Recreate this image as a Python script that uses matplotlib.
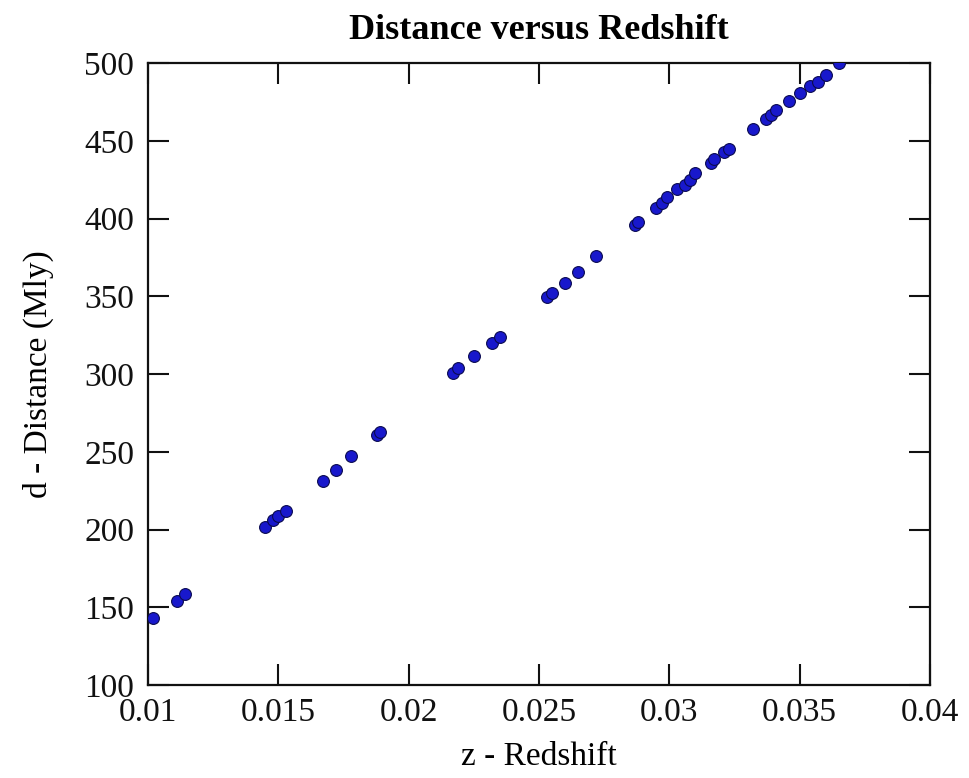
import matplotlib
matplotlib.use("Agg")
import matplotlib.pyplot as plt

# redshift z and distance d (Mly)
redshift = [0.0102, 0.0111, 0.0114, 0.0145, 0.0148, 0.0150, 0.0153,
            0.0167, 0.0172, 0.0178, 0.0188, 0.0189,
            0.0217, 0.0219, 0.0225, 0.0232, 0.0235,
            0.0253, 0.0255, 0.0260, 0.0265, 0.0272,
            0.0287, 0.0288, 0.0295, 0.0297, 0.0299, 0.0303, 0.0306,
            0.0308, 0.0310, 0.0316, 0.0317, 0.0321, 0.0323,
            0.0332, 0.0337, 0.0339, 0.0341, 0.0346, 0.0350,
            0.0354, 0.0357, 0.0360, 0.0365]
distance = [143, 154, 158.5, 201.6, 206, 209, 212,
            231, 238, 247, 261, 263,
            300.6, 304, 311.6, 320, 324,
            349.5, 352, 358.5, 365.6, 376,
            396, 398, 407, 410, 414, 419, 421.5,
            425, 429, 436, 438, 443, 445,
            457.5, 464, 466.5, 470, 475.5, 480.7,
            485, 488, 492, 500]

xticks = [0.01, 0.015, 0.02, 0.025, 0.03, 0.035, 0.04]
xticklabels = ["0.01", "0.015", "0.02", "0.025", "0.03", "0.035", "0.04"]
yticks = [100, 150, 200, 250, 300, 350, 400, 450, 500]

plt.rcParams['font.family'] = ['Liberation Serif', 'DejaVu Serif']

fig = plt.figure(figsize=(9.7, 7.78), dpi=100)
ax = fig.add_axes([0.1526, 0.1195, 0.8062, 0.7995])

ax.plot(redshift, distance, 'o', color='#1818cc', markeredgecolor='#0a0a50',
        markeredgewidth=0.8, markersize=8.5, zorder=3)

ax.set_xlim(0.01, 0.04)
ax.set_ylim(100, 500)
ax.set_xticks(xticks)
ax.set_xticklabels(xticklabels)
ax.set_yticks(yticks)

ax.tick_params(direction='in', length=15, width=1.5, top=True, right=True,
               labelsize=24, colors='#111111')
ax.tick_params(axis='x', pad=9)
ax.tick_params(axis='y', pad=10)
for s in ax.spines.values():
    s.set_linewidth(1.6)
    s.set_color('#111111')

ax.set_title('Distance versus Redshift', fontsize=26, fontweight='bold', pad=17)
ax.set_xlabel('z - Redshift', fontsize=24, labelpad=10)
ax.set_ylabel('d - Distance (Mly)', fontsize=24, labelpad=22)

fig.savefig('out.png', dpi=100)
